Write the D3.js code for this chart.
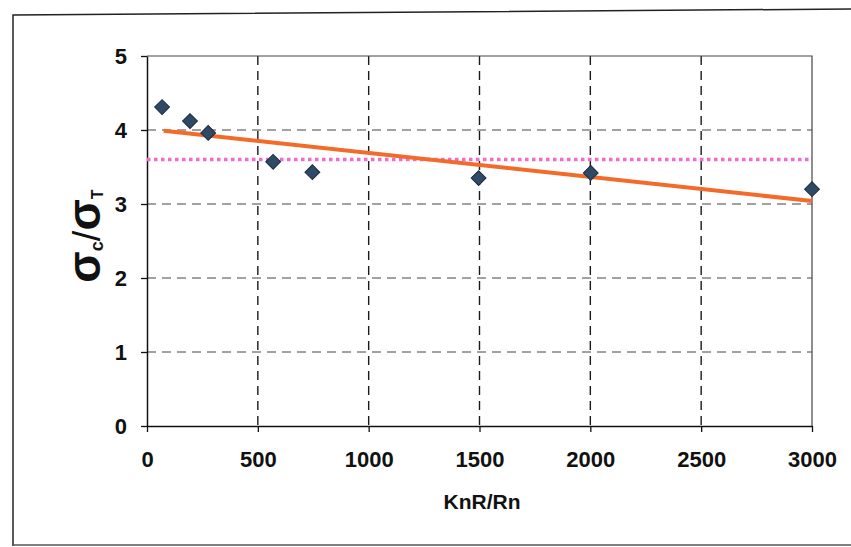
<!DOCTYPE html>
<html><head><meta charset="utf-8">
<script src="https://cdn.jsdelivr.net/npm/d3@7/dist/d3.min.js"></script>
<style>body{margin:0;background:#fff}svg{display:block}</style>
</head><body>
<svg id="c" width="851" height="547"></svg>
<script>
// Data
const knr = [68, 194, 276, 569, 746, 1496, 2002, 3000];
const ratio = [4.31, 4.12, 3.96, 3.57, 3.43, 3.35, 3.42, 3.20];
const trendX = [75, 3000];
const trendY = [3.99, 3.04];
const meanX = [0, 3000];
const meanY = [3.6, 3.6];
const xTicks = [0, 500, 1000, 1500, 2000, 2500, 3000];
const yTicks = [0, 1, 2, 3, 4, 5];

const svg = d3.select("#c");
const L = 147, R = 812, T = 56, B = 426;
const x = d3.scaleLinear().domain([0, 3000]).range([L, R]);
const y = d3.scaleLinear().domain([0, 5]).range([B, T]);

// outer chart border
svg.append("path").attr("d", `M13,546 L13,15 L851,9`).attr("fill","none").attr("stroke","#222").attr("stroke-width",1.5);
svg.append("line").attr("x1",13).attr("x2",851).attr("y1",545).attr("y2",545).attr("stroke","#555").attr("stroke-width",1.5);

// gridlines
const g = svg.append("g");
g.selectAll(".vg").data(xTicks.filter(d => d > 0 && d < 3000)).join("line")
  .attr("x1", d => x(d)).attr("x2", d => x(d)).attr("y1", T).attr("y2", B)
  .attr("stroke", "#1a1a1a").attr("stroke-width", 1.4).attr("stroke-dasharray", "9,6");
g.selectAll(".hg").data(yTicks.filter(d => d > 0 && d < 5)).join("line")
  .attr("x1", L).attr("x2", R).attr("y1", d => y(d)).attr("y2", d => y(d))
  .attr("stroke", "#444").attr("stroke-width", 1).attr("stroke-dasharray", "9,6");

// plot border top & right
svg.append("path").attr("d", `M${L},${T} L${R},${T} L${R},${B}`).attr("fill","none").attr("stroke","#444").attr("stroke-width",1.2);

// axes
const xAxis = d3.axisBottom(x).tickValues(xTicks).tickFormat(d3.format("d")).tickSize(6).tickSizeOuter(0);
const yAxis = d3.axisLeft(y).tickValues(yTicks).tickFormat(d3.format("d")).tickSize(6).tickSizeOuter(0);
const xg = svg.append("g").attr("transform", `translate(0,${B})`).call(xAxis);
const yg = svg.append("g").attr("transform", `translate(${L},0)`).call(yAxis);
[xg, yg].forEach(a => {
  a.select(".domain").attr("stroke", "#111").attr("stroke-width", 1.5);
  a.selectAll(".tick line").attr("stroke", "#111").attr("stroke-width", 1.3);
  a.selectAll("text").attr("font-family", "Liberation Sans, Arial, sans-serif")
    .attr("font-weight", "bold").attr("font-size", 22).attr("fill", "#111");
});
xg.selectAll("text").attr("dy", "1.45em");
yg.selectAll("text").attr("dx", "-0.5em").attr("dy", "0.35em");

// mean line (pink dotted)
const line = d3.line().x(d => x(d[0])).y(d => y(d[1]));
svg.append("path").attr("d", line(d3.zip(meanX, meanY)))
  .attr("fill", "none").attr("stroke", "#f06ad6").attr("stroke-width", 3.5).attr("stroke-dasharray", "3.5,3.5");

// trend line (orange)
svg.append("path").attr("d", line(d3.zip(trendX, trendY)))
  .attr("fill", "none").attr("stroke", "#f36b2b").attr("stroke-width", 4);

// points (diamonds)
const sym = d3.symbol().type(d3.symbolSquare).size(110);
svg.append("g").selectAll("path").data(d3.zip(knr, ratio)).join("path")
  .attr("d", sym).attr("transform", d => `translate(${x(d[0])},${y(d[1])}) rotate(45)`)
  .attr("fill", "#2f4a66").attr("stroke", "#1b2b3b").attr("stroke-width", 1);

// axis titles
svg.append("text").attr("x", 482).attr("y", 509).attr("text-anchor", "middle")
  .attr("font-family", "Liberation Sans, Arial, sans-serif").attr("font-weight", "bold")
  .attr("font-size", 21).attr("fill", "#111").text("KnR/Rn");

const yt = svg.append("text").attr("transform", "translate(100,236) rotate(-90)")
  .attr("text-anchor", "middle").attr("font-family", "Liberation Sans, Arial, sans-serif")
  .attr("font-weight", "bold").attr("fill", "#111");
yt.append("tspan").attr("font-size", 46).text("σ");
yt.append("tspan").attr("font-size", 18).attr("dy", 3).text("c");
yt.append("tspan").attr("font-size", 38).attr("font-weight", "normal").attr("dy", -3).text("/");
yt.append("tspan").attr("font-size", 46).text("σ");
yt.append("tspan").attr("font-size", 16).attr("dy", 3).text("T");
</script>
</body></html>
